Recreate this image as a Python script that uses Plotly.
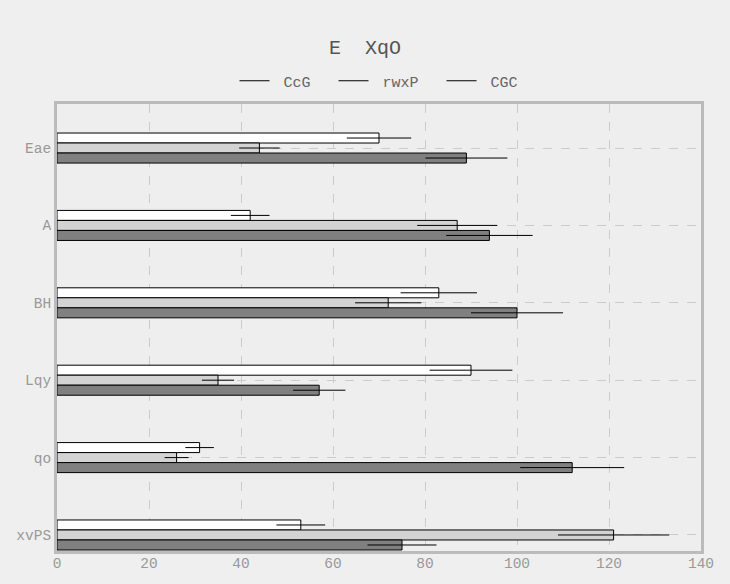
import plotly.graph_objects as go

categories = ["Eae", "A", "BH", "Lqy", "qo", "xvPS"]
series_names = ["CcG", "rwxP", "CGC"]
ccg = [70, 42, 83, 90, 31, 53]
ccg_err = [7.0, 4.2, 8.3, 9.0, 3.1, 5.3]
rwxp = [44, 87, 72, 35, 26, 121]
rwxp_err = [4.4, 8.7, 7.2, 3.5, 2.6, 12.1]
cgc = [89, 94, 100, 57, 112, 75]
cgc_err = [8.9, 9.4, 10.0, 5.7, 11.3, 7.5]

colors = ["#ffffff", "#d3d3d3", "#808080"]
vals = [ccg, rwxp, cgc]
errs = [ccg_err, rwxp_err, cgc_err]

font_family = "Liberation Mono, Courier New, monospace"
NB = "\u00a0"

fig = go.Figure()
for name, v, e, c in zip(series_names, vals, errs, colors):
    fig.add_trace(go.Bar(
        y=categories, x=v, orientation="h", name=name,
        marker=dict(color=c, line=dict(color="#000000", width=1)),
        error_x=dict(type="data", array=e, visible=True, color="#000000", thickness=1, width=0),
        showlegend=False,
    ))
for i, name in enumerate(series_names):
    label = NB + name + (NB * 2 if i < len(series_names) - 1 else "")
    fig.add_trace(go.Scatter(x=[None], y=[None], mode="lines", name=label,
                             line=dict(color="#000000", width=1)))

fig.update_layout(
    width=730, height=584,
    paper_bgcolor="#efefef", plot_bgcolor="#eeeeee",
    margin=dict(l=57, r=29, t=104, b=33),
    barmode="group", bargap=0.612, bargroupgap=0,
    font=dict(family=font_family, color="#999999", size=14),
    title=dict(text="E  XqO", x=0.5, xanchor="center", y=1 - 47/584, yanchor="middle",
               font=dict(family=font_family, size=20, color="#555555")),
    legend=dict(orientation="h", x=0.5, xanchor="center", y=1 + 23/447, yanchor="middle",
                font=dict(family=font_family, size=15, color="#666666"),
                bgcolor="rgba(0,0,0,0)", itemwidth=30, tracegroupgap=0),
    xaxis=dict(range=[0, 140], dtick=20, showgrid=True, gridcolor="#cccccc", griddash="dash",
               gridwidth=1, zeroline=False, showline=True, linecolor="#bbbbbb", linewidth=3,
               mirror=True, ticks="", ticklabelstandoff=-3,
               tickfont=dict(color="#999999", size=14.5)),
    yaxis=dict(type="category", categoryorder="array", categoryarray=categories,
               range=[5.207, -0.569], showgrid=True, gridcolor="#cccccc", griddash="dash",
               gridwidth=1, zeroline=False, showline=True, linecolor="#bbbbbb", linewidth=3,
               mirror=True, ticks="", tickfont=dict(color="#999999", size=14.5)),
)

fig.write_html("out.html")
